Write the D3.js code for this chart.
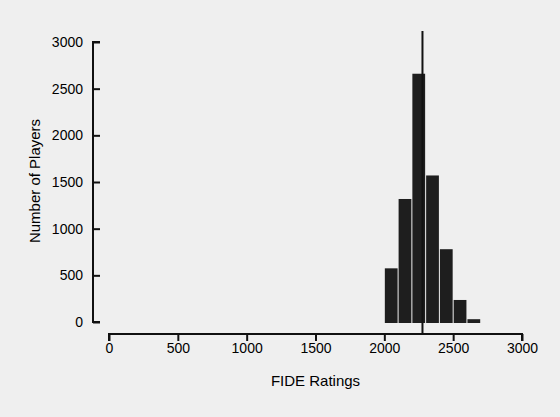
<!DOCTYPE html>
<html><head><meta charset="utf-8">
<script src="https://cdn.jsdelivr.net/npm/d3@7"></script>
<style>
html,body{margin:0;padding:0;background:#efefef;}
svg{display:block;}
text{font-family:"Liberation Sans",Arial,Helvetica,sans-serif;fill:#000;}
</style></head><body>
<svg id="c" width="560" height="417"></svg>
<script>
const binStarts = [2000, 2100, 2200, 2300, 2400, 2500, 2600];
const binWidth = 100;
const counts = [575, 1318, 2660, 1570, 780, 236, 30];
const meanRating = 2277;
const xTicks = [0, 500, 1000, 1500, 2000, 2500, 3000];
const yTicks = [0, 500, 1000, 1500, 2000, 2500, 3000];

const svg = d3.select("#c");
svg.append("rect").attr("width",560).attr("height",417).attr("fill","#efefef");

const x = d3.scaleLinear().domain([0,3000]).range([109,522]);
const y = d3.scaleLinear().domain([0,3000]).range([322,42]);

// bars
svg.append("g").selectAll("rect").data(binStarts).join("rect")
  .attr("x", d => x(d) + 0.5)
  .attr("width", d => x(d+binWidth) - x(d) - 1)
  .attr("y", (d,i) => y(counts[i]))
  .attr("height", (d,i) => y(0) - y(counts[i]) + 1)
  .attr("fill", "#1e1e1e");

// x axis
const xAxis = d3.axisBottom(x).tickValues(xTicks).tickSize(7).tickPadding(2).tickFormat(d3.format("d"));
const gx = svg.append("g").attr("transform","translate(0,334)").call(xAxis);
gx.select(".domain").attr("d", `M${x(0)},7V0H${x(3000)}V7`).attr("stroke","#111").attr("stroke-width",2).attr("fill","none");
gx.selectAll(".tick line").attr("stroke","#111").attr("stroke-width",2);
gx.selectAll(".tick text").attr("font-size",14).attr("fill","#000");

// y axis
const yAxis = d3.axisRight(y).tickValues(yTicks).tickSize(7).tickFormat(d3.format("d"));
const gy = svg.append("g").attr("transform","translate(93,0)").call(yAxis);
gy.select(".domain").attr("d", `M7,${y(3000)}H0V${y(0)}H7`).attr("stroke","#111").attr("stroke-width",2).attr("fill","none");
gy.selectAll(".tick line").attr("stroke","#111").attr("stroke-width",2);
gy.selectAll(".tick text").attr("font-size",14).attr("fill","#000")
  .attr("text-anchor","end").attr("x",-10);

// mean line
svg.append("line").attr("x1",x(meanRating)).attr("x2",x(meanRating))
  .attr("y1",31).attr("y2",334).attr("stroke","#111").attr("stroke-width",2);

// labels
svg.append("text").attr("x",(x(0)+x(3000))/2).attr("y",386).attr("text-anchor","middle")
  .attr("font-size",15).text("FIDE Ratings");
svg.append("text").attr("transform","translate(40,181) rotate(-90)").attr("text-anchor","middle")
  .attr("font-size",15).text("Number of Players");
</script>
</body></html>
